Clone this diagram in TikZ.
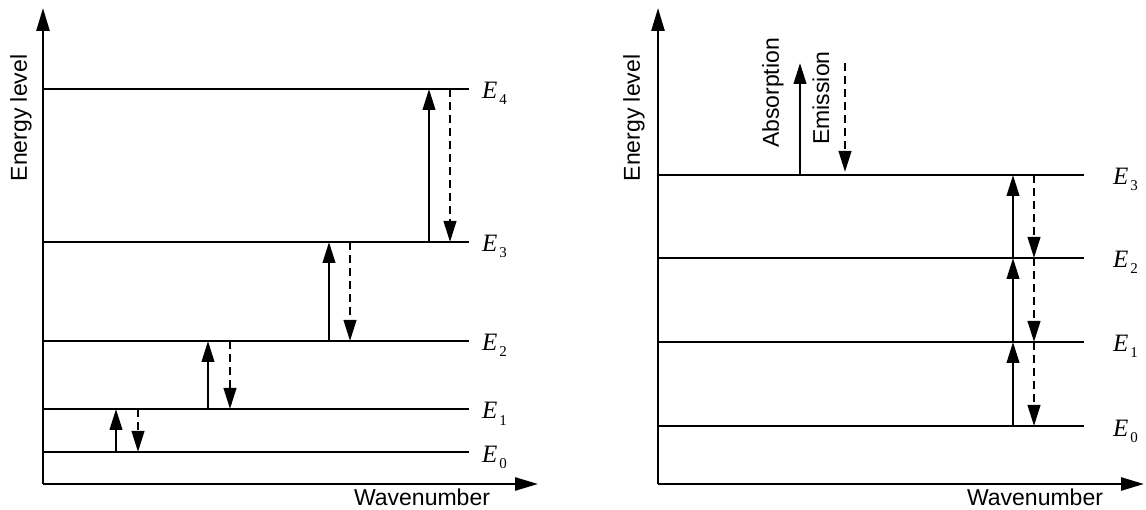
\documentclass[tikz,border=0pt]{standalone}
\usepackage{fontspec}
\setmainfont{Liberation Sans}
\newfontfamily\serifE{Liberation Serif}
\usetikzlibrary{arrows.meta}
% level label: italic E with a lowered index
\newcommand\elevel[1]{\textit{E}\kern2pt\raisebox{-6pt}{\fontsize{15}{15}\selectfont #1}}
\begin{document}
\begin{tikzpicture}[x=1pt,y=-1pt,
  ax/.style={line width=2.6pt,-{Triangle[length=23pt,width=13pt]}},
  lvl/.style={line width=2.6pt},
  up/.style={line width=2.5pt,-{Triangle[length=21pt,width=12.5pt]}},
  down/.style={line width=2.5pt,dash pattern=on 8pt off 5pt,-{Triangle[length=21pt,width=12.5pt]}},
  lab/.style={font=\fontsize{23}{27}\selectfont,inner sep=0pt},
  elab/.style={anchor=base west,inner sep=0pt,font=\serifE\fontsize{25}{25}\selectfont}]
\useasboundingbox (0,0) rectangle (1146,510);

% ---------- left: unequal level spacing ----------
\coordinate (Lo) at (43,484);
\coordinate (Ly) at (43,8);
\coordinate (Lx) at (538,484);
\draw[ax] (Lo) -- (Ly);
\draw[ax] (Lo) -- (Lx);
\node[lab,rotate=90] (Lylab) at (21,118) {Energy level};
\node[lab] (Lxlab) at (422,497) {Wavenumber};

\foreach \n/\y in {0/452,1/409,2/341,3/242,4/89}{
  \coordinate (L\n) at (43,\y);
  \coordinate (L\n e) at (469,\y);
  \draw[lvl] (L\n) -- (L\n e);
  \node[elab] (LE\n) at (482,\y+10) {\elevel{\n}};
}
\foreach \a/\b/\u/\d in {0/1/73/95,1/2/165/187,2/3/286/307,3/4/386/407}{
  \draw[up] ([xshift=\u pt]L\a) -- ([xshift=\u pt]L\b);
  \draw[down] ([xshift=\d pt]L\b) -- ([xshift=\d pt]L\a);
}

% ---------- right: equal level spacing ----------
\coordinate (Ro) at (658,484);
\coordinate (Ry) at (658,8);
\coordinate (Rx) at (1144,484);
\draw[ax] (Ro) -- (Ry);
\draw[ax] (Ro) -- (Rx);
\node[lab,rotate=90] (Rylab) at (634,118) {Energy level};
\node[lab] (Rxlab) at (1035,497) {Wavenumber};

\foreach \n/\y in {0/426,1/342,2/258,3/175}{
  \coordinate (R\n) at (658,\y);
  \coordinate (R\n e) at (1084,\y);
  \draw[lvl] (R\n) -- (R\n e);
  \node[elab] (RE\n) at (1113,\y+10) {\elevel{\n}};
}
\foreach \a/\b in {0/1,1/2,2/3}{
  \draw[up] ([xshift=355pt]R\a) -- ([xshift=355pt]R\b);
  \draw[down] ([xshift=376pt]R\b) -- ([xshift=376pt]R\a);
}

% legend
\coordinate (absA) at (800,175);
\coordinate (absB) at (800,63);
\coordinate (emiA) at (845,63);
\coordinate (emiB) at (845,172);
\draw[up] (absA) -- (absB);
\draw[down] (emiA) -- (emiB);
\node[lab,rotate=90] (absLab) at (773,93) {Absorption};
\node[lab,rotate=90] (emiLab) at (821,98) {Emission};
\end{tikzpicture}
\end{document}
